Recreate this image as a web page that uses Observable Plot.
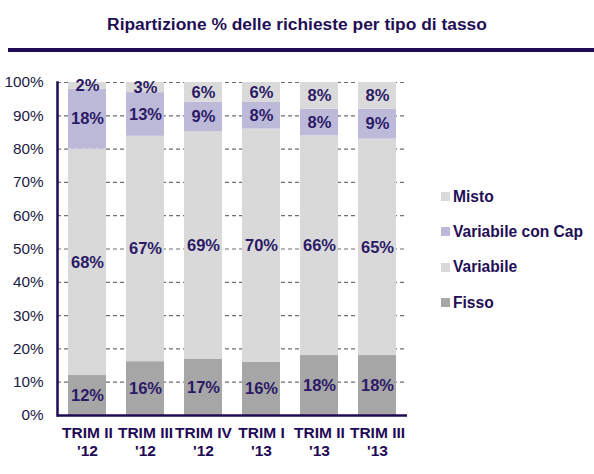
<!DOCTYPE html>
<html><head><meta charset="utf-8">
<script src="https://cdn.jsdelivr.net/npm/d3@7"></script>
<script src="https://cdn.jsdelivr.net/npm/@observablehq/plot@0.6"></script>
<style>
body{margin:0;background:#fff;font-family:Arial,"Liberation Sans",sans-serif;}
#wrap{position:relative;width:594px;height:474px;overflow:hidden;background:#fff}
#title{position:absolute;left:0;width:594px;top:12px;text-align:center;font-size:17.4px;font-weight:bold;color:#1f0f55;line-height:24px}
#sep{position:absolute;left:8px;right:0;top:48px;height:4px;background:#1f0a55}
#chart{position:absolute;left:0;top:60px}
#legend{position:absolute;left:441px;top:179px}
.item{display:flex;align-items:center;height:35.3px;font-size:15.6px;font-weight:bold;color:#1f0f55}
.sw{width:9px;height:9px;margin-right:3px}
</style></head>
<body>
<div id="wrap">
  <div id="title">Ripartizione % delle richieste per tipo di tasso</div>
  <div id="sep"></div>
  <div id="chart"></div>
  <div id="legend"></div>
</div>
<script>
const categories = ["TRIM II\n'12", "TRIM III\n'12", "TRIM IV\n'12", "TRIM I\n'13", "TRIM II\n'13", "TRIM III\n'13"];
const series = ["Fisso", "Variabile", "Variabile con Cap", "Misto"];
const fisso = [12, 16, 17, 16, 18, 18];
const variabile = [68, 67, 69, 70, 66, 65];
const variabileCap = [18, 13, 9, 8, 8, 9];
const misto = [2, 3, 6, 6, 8, 8];
const colors = ["#a6a6a6", "#d9d9d9", "#bdbad9", "#dadada"];
const yTicks = [0, 0.1, 0.2, 0.3, 0.4, 0.5, 0.6, 0.7, 0.8, 0.9, 1];

const values = [fisso, variabile, variabileCap, misto];
const data = [];
categories.forEach((c, i) => {
  series.forEach((s, j) => data.push({cat: c, series: s, value: values[j][i]}));
});

const navy = "#1f0a55";
const stackOpts = {x: "cat", y: "value", z: "series", offset: "normalize", order: series};

const chart = Plot.plot({
  width: 594,
  height: 410,
  marginLeft: 57,
  marginRight: 187,
  marginTop: 22,
  marginBottom: 55,
  style: {fontFamily: "Arial, 'Liberation Sans', sans-serif", background: "#fff"},
  x: {domain: categories, paddingInner: 0.35, paddingOuter: 0.17, label: null},
  y: {domain: [0, 1], ticks: yTicks, tickFormat: d3.format(".0%"), label: null},
  color: {domain: series, range: colors},
  marks: [
    Plot.ruleY(yTicks.filter(d => d > 0), {stroke: "#6f6f6f", strokeWidth: 1.2, strokeDasharray: "4,3"}),
    Plot.barY(data, Plot.stackY({...stackOpts, fill: "series"})),
    Plot.text(data, Plot.stackY({...stackOpts, text: d => d.value + "%", fill: "#2b1a66", fontSize: 16.5, fontWeight: "bold"})),
    Plot.axisY({ticks: yTicks, tickFormat: d3.format(".0%"), tickSize: 0, tickPadding: 14, fontSize: 15.3, fill: "#221a44", label: null}),
    Plot.axisX({tickSize: 0, tickPadding: 9, fontSize: 15.5, fontWeight: "bold", fill: navy, lineHeight: 1.2, label: null}),
    Plot.frame({anchor: "left", stroke: navy, strokeWidth: 2.5}),
    Plot.ruleY([0], {stroke: navy, strokeWidth: 2.5})
  ]
});
document.getElementById("chart").appendChild(chart);

const legend = document.getElementById("legend");
series.slice().reverse().forEach(s => {
  const it = document.createElement("div");
  it.className = "item";
  const sw = document.createElement("span");
  sw.className = "sw";
  sw.style.background = colors[series.indexOf(s)];
  it.appendChild(sw);
  it.appendChild(document.createTextNode(s));
  legend.appendChild(it);
});
</script>
</body></html>
